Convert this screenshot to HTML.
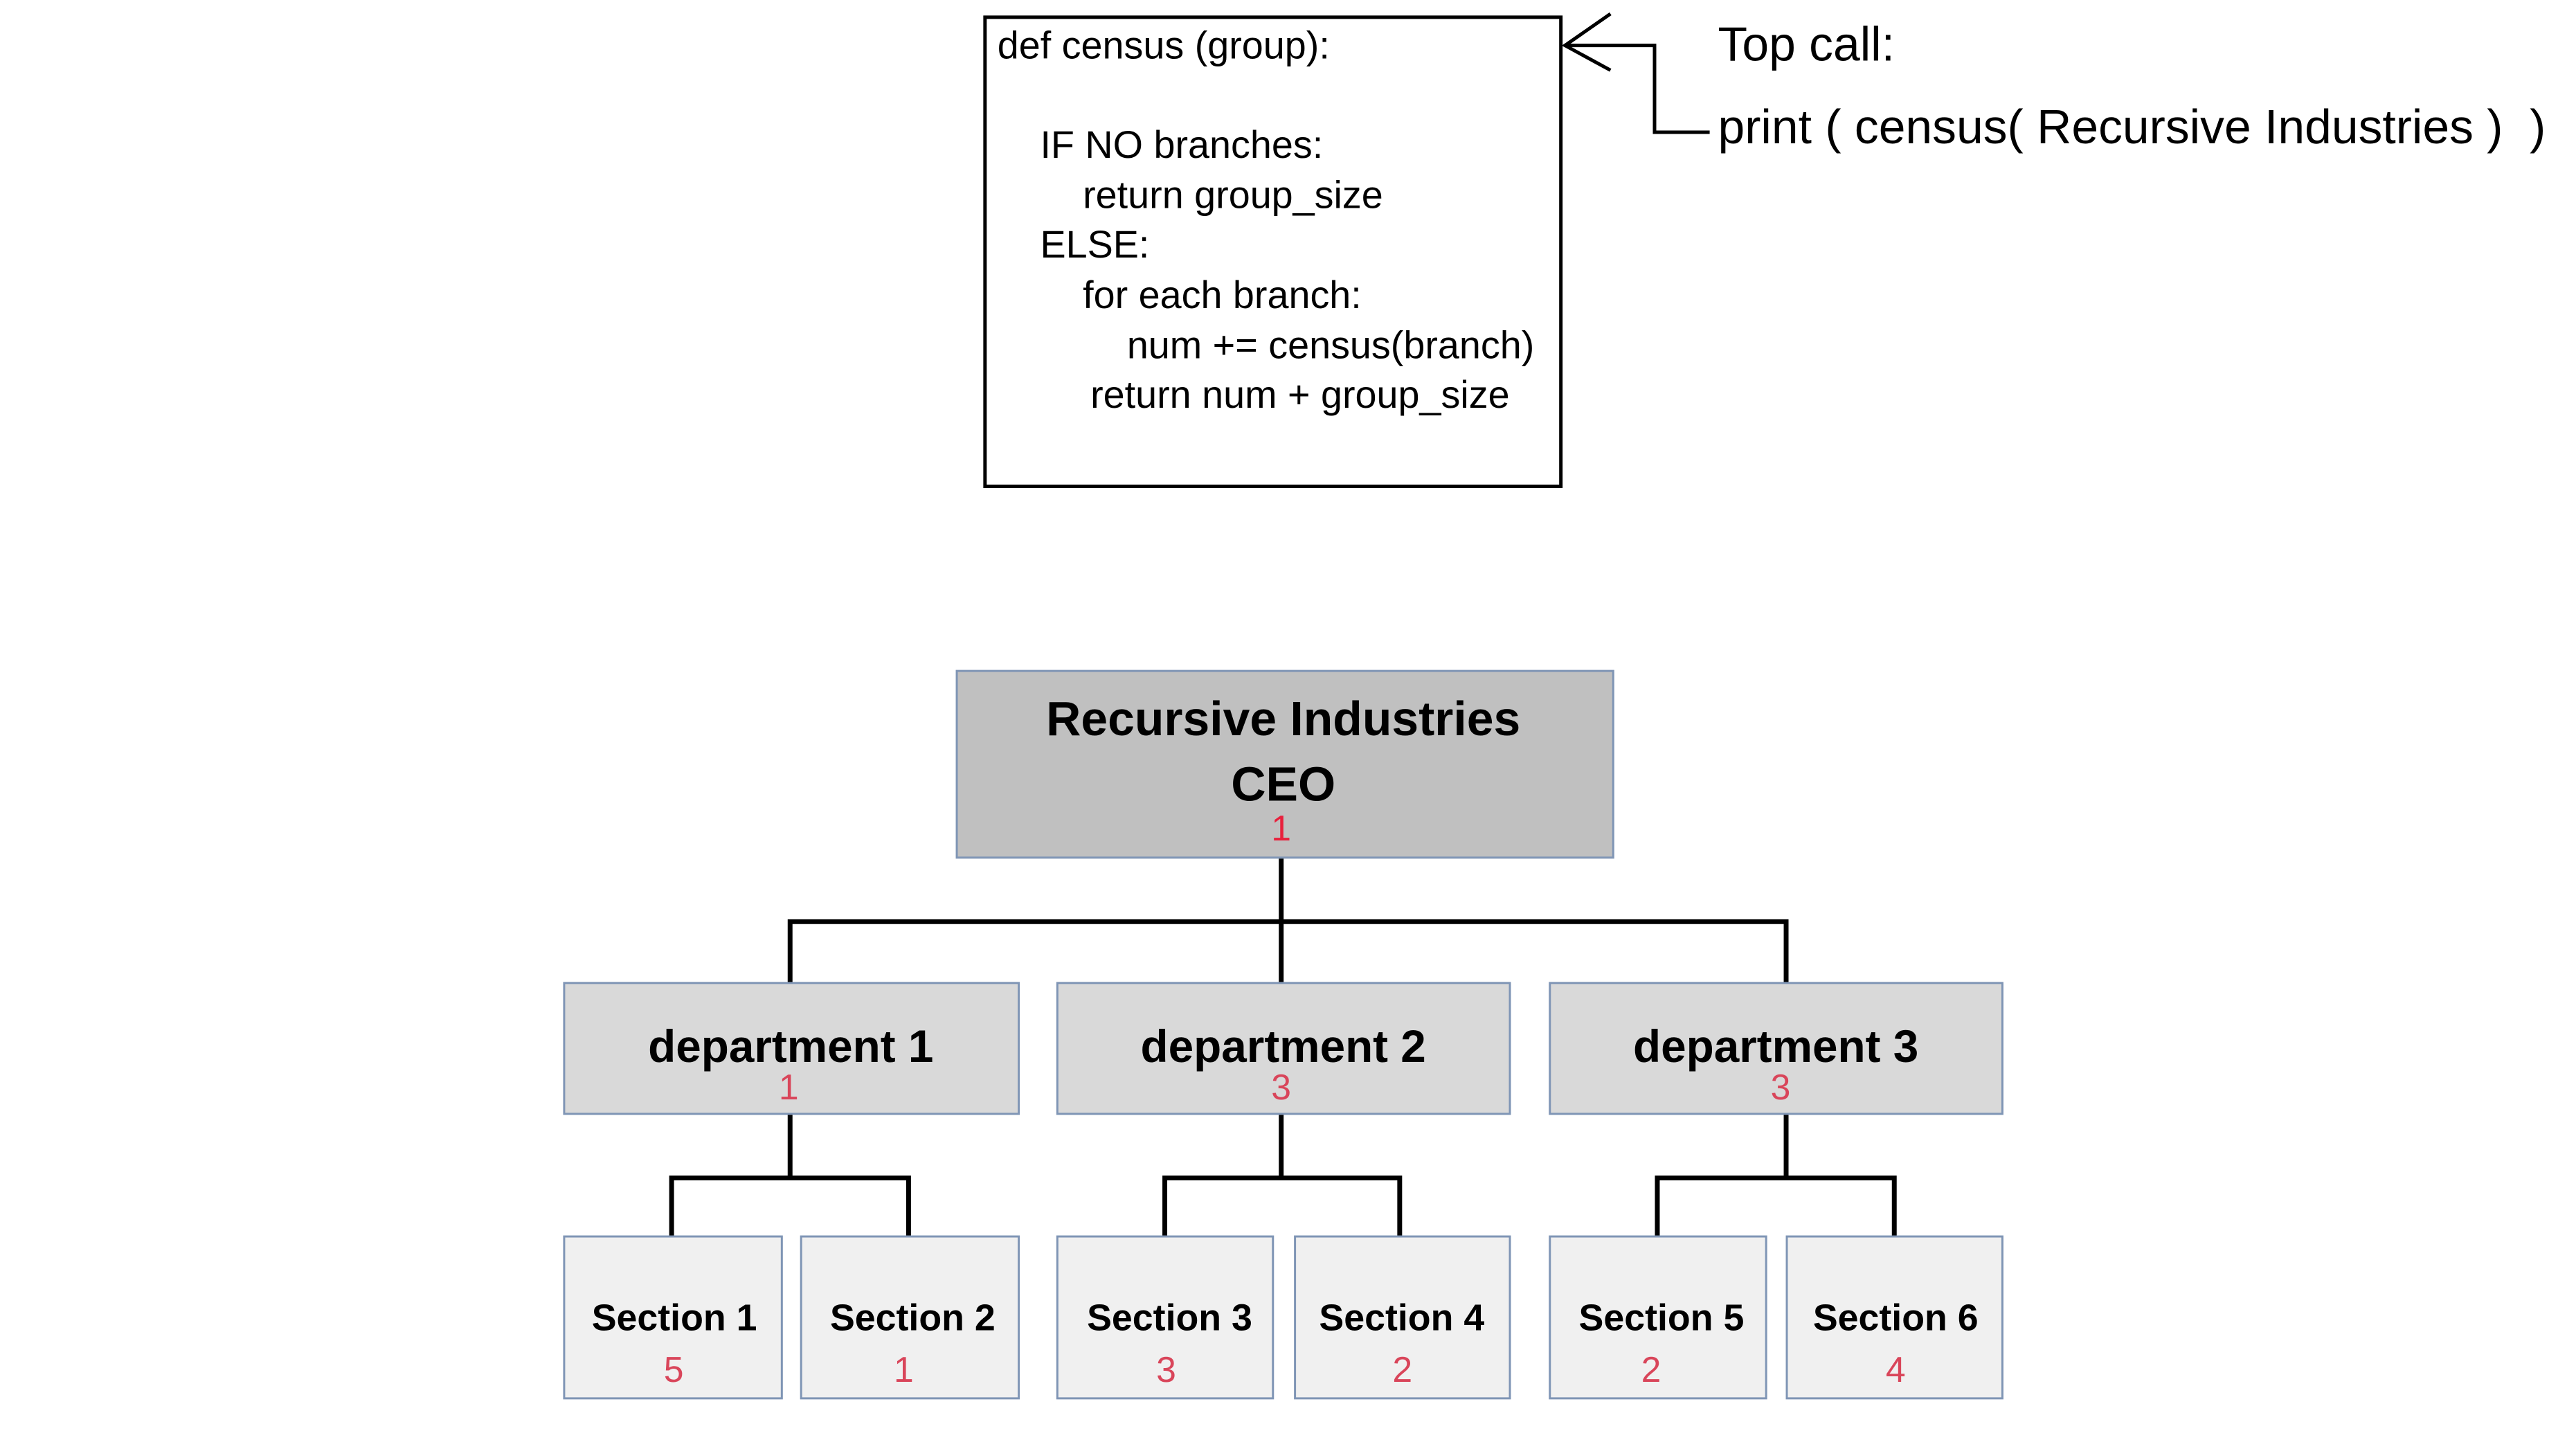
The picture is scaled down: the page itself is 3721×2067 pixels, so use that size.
<!DOCTYPE html>
<html><head><meta charset="utf-8"><style>
html,body{margin:0;padding:0;background:#fff}
svg{display:block}
text{font-family:"Liberation Sans",Arial,sans-serif}
</style></head><body>
<svg width="3721" height="2067" viewBox="0 0 3721 2067" xmlns="http://www.w3.org/2000/svg">
<rect x="0" y="0" width="3721" height="2067" fill="#fff"/>
<g transform="scale(0.995)">
<!-- code box -->
<rect x="1430" y="25" width="836" height="681" fill="#fff" stroke="#000" stroke-width="5"/>
<g font-size="56" fill="#000" dominant-baseline="central">
<text x="1448" y="66">def census (group):</text>
<text x="1510" y="210">IF NO branches:</text>
<text x="1572" y="283">return group_size</text>
<text x="1510" y="355">ELSE:</text>
<text x="1572" y="428">for each branch:</text>
<text x="1636" y="501">num += census(branch)</text>
<text x="1583" y="573">return num + group_size</text>
</g>
<!-- arrow -->
<polyline points="2272,66 2402,66 2402,192 2482,192" fill="none" stroke="#000" stroke-width="5"/>
<polyline points="2338,20 2272,66 2338,102" fill="none" stroke="#000" stroke-width="5"/>
<g font-size="70" fill="#000" dominant-baseline="central">
<text x="2494" y="64">Top call:</text>
<text x="2494" y="184" xml:space="preserve">print ( census( Recursive Industries )  )</text>
</g>
<!-- connectors -->
<g stroke="#000" stroke-width="7" fill="none">
<line x1="1860" y1="1245" x2="1860" y2="1428"/>
<polyline points="1147,1428 1147,1338 2593,1338 2593,1428"/>
<line x1="1147" y1="1617" x2="1147" y2="1710"/>
<line x1="1860" y1="1617" x2="1860" y2="1710"/>
<line x1="2593" y1="1617" x2="2593" y2="1710"/>
<polyline points="975,1796 975,1710 1319,1710 1319,1796"/>
<polyline points="1691,1796 1691,1710 2032,1710 2032,1796"/>
<polyline points="2406,1796 2406,1710 2750,1710 2750,1796"/>
</g>
<!-- CEO -->
<rect x="1389" y="974" width="953" height="271" fill="#c0c0c0" stroke="#7f95b5" stroke-width="3"/>
<g text-anchor="middle" dominant-baseline="central">
<text x="1863" y="1043" font-size="70" font-weight="bold">Recursive Industries</text>
<text x="1863" y="1138" font-size="70" font-weight="bold">CEO</text>
<text x="1860" y="1202" font-size="52" fill="#e8203c">1</text>
</g>
<!-- departments -->
<g fill="#d9d9d9" stroke="#7f95b5" stroke-width="3">
<rect x="819" y="1427" width="660" height="190"/>
<rect x="1535" y="1427" width="657" height="190"/>
<rect x="2250" y="1427" width="657" height="190"/>
</g>
<g text-anchor="middle" dominant-baseline="central" font-size="66" font-weight="bold">
<text x="1148" y="1519">department 1</text>
<text x="1863" y="1519">department 2</text>
<text x="2578" y="1519">department 3</text>
</g>
<g text-anchor="middle" dominant-baseline="central" font-size="52" fill="#d9455a">
<text x="1145" y="1578">1</text>
<text x="1860" y="1578">3</text>
<text x="2585" y="1578">3</text>
</g>
<!-- sections -->
<g fill="#f0f0f0" stroke="#7f95b5" stroke-width="3">
<rect x="819" y="1795" width="316" height="235"/>
<rect x="1163" y="1795" width="316" height="235"/>
<rect x="1535" y="1795" width="313" height="235"/>
<rect x="1880" y="1795" width="312" height="235"/>
<rect x="2250" y="1795" width="314" height="235"/>
<rect x="2594" y="1795" width="313" height="235"/>
</g>
<g text-anchor="middle" dominant-baseline="central" font-size="54" font-weight="bold">
<text x="979" y="1913">Section 1</text>
<text x="1325" y="1913">Section 2</text>
<text x="1698" y="1913">Section 3</text>
<text x="2035" y="1913">Section 4</text>
<text x="2412" y="1913">Section 5</text>
<text x="2752" y="1913">Section 6</text>
</g>
<g text-anchor="middle" dominant-baseline="central" font-size="52" fill="#d9455a">
<text x="978" y="1988">5</text>
<text x="1312" y="1988">1</text>
<text x="1693" y="1988">3</text>
<text x="2036" y="1988">2</text>
<text x="2397" y="1988">2</text>
<text x="2752" y="1988">4</text>
</g>
</g>
</svg>
</body></html>
